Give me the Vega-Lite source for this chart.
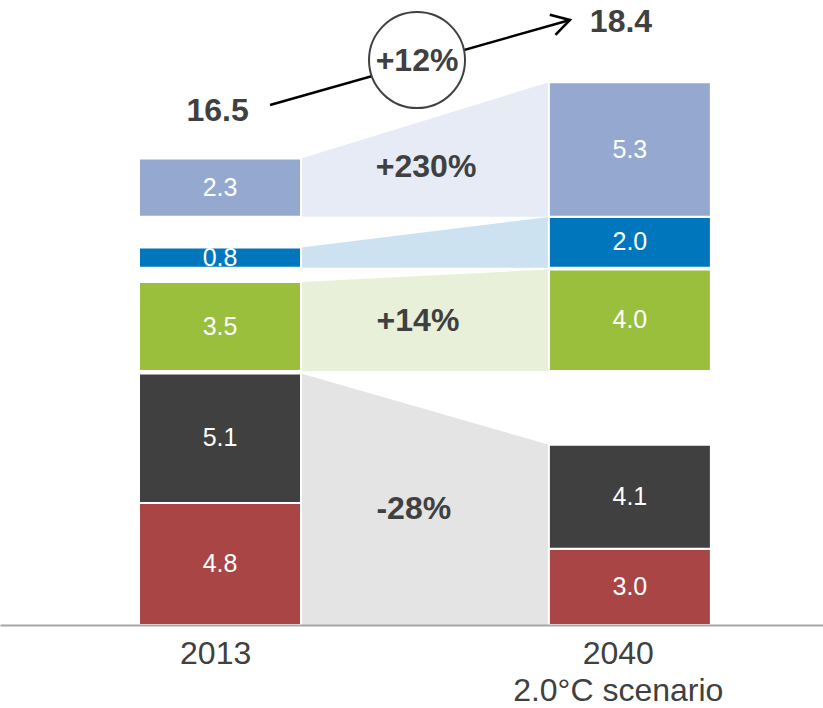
{
  "$schema": "https://vega.github.io/schema/vega-lite/v6.json",
  "width": 823,
  "height": 625,
  "autosize": {"type": "none"},
  "padding": {"left": 0, "top": 0, "right": 0, "bottom": 83},
  "background": "white",
  "config": {"view": {"stroke": null}, "font": "Liberation Sans"},
  "datasets": {
    "bars": [
      {"year": "2013", "source": "A", "value": 4.8, "x": 0, "x2": 1, "y": 0, "y2": 4.8},
      {"year": "2013", "source": "B", "value": 5.1, "x": 0, "x2": 1, "y": 4.8, "y2": 9.9},
      {"year": "2013", "source": "C", "value": 3.5, "x": 0, "x2": 1, "y": 10.0, "y2": 13.5},
      {"year": "2013", "source": "D", "value": 0.8, "x": 0, "x2": 1, "y": 14.06, "y2": 14.86},
      {"year": "2013", "source": "E", "value": 2.3, "x": 0, "x2": 1, "y": 16.07, "y2": 18.37},
      {"year": "2040", "source": "A", "value": 3.0, "x": 2.53, "x2": 3.53, "y": 0, "y2": 3.0},
      {"year": "2040", "source": "B", "value": 4.1, "x": 2.53, "x2": 3.53, "y": 3.0, "y2": 7.1},
      {"year": "2040", "source": "C", "value": 4.0, "x": 2.53, "x2": 3.53, "y": 10.0, "y2": 14.0},
      {"year": "2040", "source": "D", "value": 2.0, "x": 2.53, "x2": 3.53, "y": 14.06, "y2": 16.06},
      {"year": "2040", "source": "E", "value": 5.3, "x": 2.53, "x2": 3.53, "y": 16.07, "y2": 21.37}
    ],
    "links": [
      {"link": "fossil", "x": 1, "y": 0, "y2": 9.9},
      {"link": "fossil", "x": 2.53, "y": 0, "y2": 7.1},
      {"link": "green", "x": 1, "y": 10.0, "y2": 13.5},
      {"link": "green", "x": 2.53, "y": 10.0, "y2": 14.0},
      {"link": "blue", "x": 1, "y": 14.06, "y2": 14.86},
      {"link": "blue", "x": 2.53, "y": 14.06, "y2": 16.06},
      {"link": "light", "x": 1, "y": 16.07, "y2": 18.37},
      {"link": "light", "x": 2.53, "y": 16.07, "y2": 21.37}
    ],
    "notes": [
      {"text": "+230%", "x": 1.772, "y": 18.03},
      {"text": "+14%", "x": 1.722, "y": 11.97},
      {"text": "-28%", "x": 1.696, "y": 4.58},
      {"text": "16.5", "x": 0.485, "y": 20.25},
      {"text": "18.4", "x": 2.975, "y": 23.74},
      {"text": "+12%", "x": 1.716, "y": 22.2}
    ],
    "arrow": [
      {"x": 0.809, "y": 20.47, "o": 1},
      {"x": 2.66, "y": 23.82, "o": 2}
    ],
    "circle": [
      {"x": 1.716, "y": 22.24}
    ]
  },
  "encoding": {
    "x": {
      "field": "x",
      "type": "quantitative",
      "title": null,
      "scale": {"domain": [-0.858, 4.222], "nice": false, "zero": false},
      "axis": {
        "values": [0.47, 2.955],
        "labelExpr": "datum.value < 1.5 ? '2013' : ['2040', '2.0°C scenario']",
        "labelFontSize": 32,
        "labelFont": "Liberation Sans",
        "labelColor": "#404040",
        "labelPadding": 13,
        "labelLineHeight": 37,
        "labelLimit": 0,
        "labelBound": false,
        "labelFlush": false,
        "labelOverlap": false,
        "ticks": false,
        "grid": false,
        "domainColor": "#a6a6a6",
        "domainWidth": 2,
        "zindex": 1
      }
    },
    "y": {
      "field": "y",
      "type": "quantitative",
      "title": null,
      "scale": {"domain": [0, 24.606], "nice": false, "zero": false},
      "axis": null
    }
  },
  "layer": [
    {
      "data": {"name": "links"},
      "mark": {"type": "area", "opacity": 1, "interpolate": "linear"},
      "encoding": {
        "y2": {"field": "y2"},
        "color": {
          "field": "link",
          "type": "nominal",
          "legend": null,
          "scale": {"domain": ["fossil", "green", "blue", "light"], "range": ["#e4e4e4", "#e9f0da", "#cce2f0", "#e6ebf5"]}
        }
      }
    },
    {
      "data": {"name": "bars"},
      "mark": {"type": "rect", "stroke": "white", "strokeWidth": 2},
      "encoding": {
        "x2": {"field": "x2"},
        "y2": {"field": "y2"},
        "fill": {
          "field": "source",
          "type": "nominal",
          "legend": null,
          "scale": {"domain": ["A", "B", "C", "D", "E"], "range": ["#a94645", "#404040", "#99bf3d", "#0077bd", "#95a9d0"]}
        }
      }
    },
    {
      "data": {"name": "bars"},
      "transform": [
        {"calculate": "(datum.x + datum.x2) / 2", "as": "x"},
        {"calculate": "(datum.y + datum.y2) / 2", "as": "y"}
      ],
      "mark": {"type": "text", "color": "white", "fontSize": 25, "font": "Liberation Sans", "baseline": "middle", "align": "center"},
      "encoding": {
        "text": {"field": "value", "type": "quantitative", "format": ".1f"}
      }
    },
    {
      "data": {"name": "arrow"},
      "mark": {"type": "line", "color": "black", "strokeWidth": 2.5},
      "encoding": {
        "order": {"field": "o", "type": "quantitative"}
      }
    },
    {
      "data": {"name": "arrow"},
      "transform": [{"filter": "datum.o == 2"}],
      "mark": {"type": "point", "shape": "M-1,-0.58L0,0L-1,0.58", "size": 1296, "angle": -15.8, "filled": false, "stroke": "black", "strokeWidth": 2.5, "opacity": 1},
      "encoding": {}
    },
    {
      "data": {"name": "circle"},
      "mark": {"type": "point", "shape": "circle", "size": 9216, "filled": true, "fill": "white", "stroke": "#404040", "strokeWidth": 2, "opacity": 1},
      "encoding": {}
    },
    {
      "data": {"name": "notes"},
      "mark": {"type": "text", "color": "#404040", "fontSize": 32, "fontWeight": "bold", "font": "Liberation Sans", "baseline": "middle", "align": "center"},
      "encoding": {
        "text": {"field": "text", "type": "nominal"}
      }
    }
  ]
}
